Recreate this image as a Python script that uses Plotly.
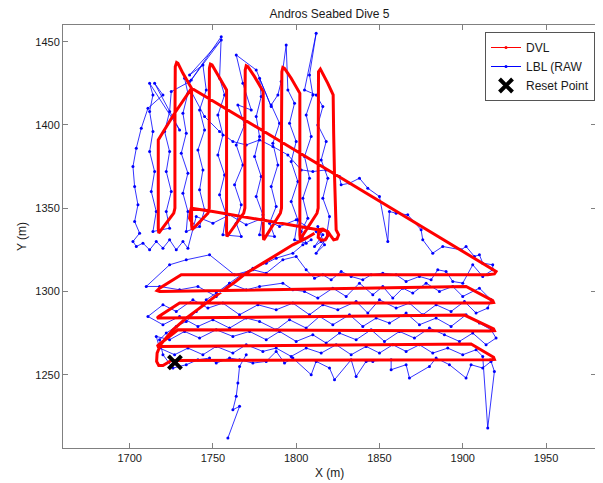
import plotly.graph_objects as go

# ---------------- DVL track (m) ----------------
dvl_pts = [
    (1738,1340),(1736,1344),(1736.5,1348),(1737,1350),
    (1750,1348),(1765,1345.5),(1780,1343),(1795,1340.5),(1808,1338),(1813,1337),
    (1816,1337.5),(1818.5,1336),(1819,1333.5),(1817.5,1331),(1815,1330.8),(1813.2,1332.5),(1813.5,1335.5),(1816,1337),(1819,1336),
    (1821,1333),(1822.5,1331),(1824.5,1331.5),(1825.5,1334),(1824,1337),
    (1823.5,1350),(1823,1370),(1822.5,1395),(1822.2,1418),
    (1819,1425),(1816,1431),(1814.5,1433.5),(1813.4,1432),
    (1813.2,1410),(1813.2,1380),(1813.2,1350),(1812.5,1347),
    (1803.5,1333),(1802.5,1331),(1802.2,1334),
    (1802.2,1370),(1802.2,1419),
    (1797,1428),(1793,1434),(1792,1434.5),(1791.4,1432),
    (1791.2,1400),(1791.2,1350),(1790.5,1347),
    (1781.5,1333),(1780.5,1331),(1780.2,1334),
    (1780.2,1380),(1780.2,1420),
    (1775,1429),(1771,1435),(1770,1435.5),(1769.4,1433),
    (1769.2,1400),(1769.2,1350),(1768.5,1347),
    (1759.5,1335),(1758.5,1333),(1758.2,1336),
    (1758.2,1380),(1758.2,1421),
    (1753,1430),(1749.5,1436),(1748.5,1436.5),(1747.9,1434),
    (1747.8,1400),(1747.8,1350),(1747,1347),
    (1738.5,1338),(1737.5,1337),(1737.2,1340),
    (1737.2,1380),(1737.2,1422),
    (1732,1431),(1729,1437),(1728.2,1437.5),(1727.4,1435),
    (1727.2,1400),(1727.2,1350),(1726.5,1347),
    (1718.5,1336),(1717.5,1335),(1717.2,1338),
    (1717.2,1365),(1717.2,1391),
    (1727,1407),(1737.2,1422),
    (1780,1396.5),(1830,1366.5),(1880,1336.5),(1910,1318),(1917,1314),(1920,1312),(1919,1310.5),(1915,1310),
    (1850,1310),(1780,1310),(1731,1310),
    (1718,1302),(1716.5,1300.5),(1718,1300),
    (1800,1301.5),(1902,1303),
    (1918,1294.5),(1918.5,1293.3),(1916,1293),
    (1830,1293),(1730,1293),
    (1717.5,1285),(1716.5,1284),(1718,1284),
    (1800,1285),(1901,1285.8),
    (1918.5,1277.5),(1919,1276.4),(1916,1276.2),
    (1830,1276.5),(1729,1277),
    (1717.5,1268),(1716.5,1267),(1718,1267),
    (1800,1267.5),(1905,1268.4),
    (1918.5,1260.5),(1919,1259.2),(1916,1259),
    (1820,1258.6),(1725,1258.5),
    (1720,1255.5),(1717.5,1255.5),(1716.2,1258),(1716.5,1263),(1718.5,1268),
    (1726,1277),(1734,1284),(1745,1292.5),(1754,1299),(1763,1305.5),(1770,1311),
    (1780,1317),(1790,1323),(1798,1328),(1806,1332),(1811,1335),
]
dvl_x = [p[0] for p in dvl_pts]
dvl_y = [p[1] for p in dvl_pts]

# ---------------- LBL (raw) fixes (m) ----------------
lbl_upper = [
    (1812,1336),(1815,1330),(1811,1327),(1816,1334),(1813,1339),(1817,1328),(1812,1323),(1818,1332),
    (1820,1345),(1816,1356),(1819,1368),(1815,1379),(1818,1390),(1813,1400),(1816,1411),(1812,1418),
    (1805,1421),(1812,1455),(1808,1430),(1810,1418),(1806,1406),(1809,1393),(1805,1381),(1808,1368),
    (1804,1356),(1807,1344),(1803,1336),(1806,1329),
    (1799,1331),(1801,1343),(1797,1354),(1801,1366),(1797,1378),(1800,1390),(1796,1401),(1799,1413),
    (1795,1421),(1794,1448),(1791,1426),
    (1789,1418),(1785,1412),(1790,1401),(1786,1389),(1789,1376),(1785,1363),(1788,1351),(1784,1341),(1787,1333),
    (1778,1334),(1780,1346),(1776,1357),(1779,1369),(1775,1381),(1778,1393),(1776,1405),(1779,1417),
    (1778,1428),(1785,1411),(1776,1433),
    (1764,1442),(1768,1425),(1773,1409),(1765,1412),(1769,1400),(1764,1388),(1768,1376),(1763,1364),
    (1767,1352),(1764,1341),(1767,1333),
    (1756,1334),(1758,1346),(1754,1358),(1757,1370),(1753,1382),(1756,1394),(1753,1406),(1757,1418),
    (1754,1428),(1755,1453),(1737,1427),(1755,1451),(1736,1430),(1744,1436),
    (1746,1421),(1742,1409),(1745,1397),(1741,1385),(1744,1373),(1742,1361),(1745,1349),(1742,1339),
    (1734,1336),(1735,1348),(1732,1359),(1735,1371),(1731,1383),(1734,1395),(1732,1407),(1735,1419),
    (1733,1428),(1736,1426),
    (1725,1420),(1724,1408),(1721,1396),(1724,1384),(1722,1372),(1725,1360),(1722,1348),(1724,1338),
    (1714,1336),(1716,1348),(1713,1360),(1715,1372),(1712,1384),(1714,1396),(1712,1408),(1714,1418),
    (1712,1425),(1730,1397),(1715,1425),(1720,1418),
    (1711,1410),(1707,1398),(1704,1386),(1702,1375),(1703,1363),(1705,1352),(1703,1342),(1706,1335),
    (1702,1330),(1704,1327),
    (1708,1329),(1712,1325),(1716,1330),(1720,1326),(1724,1331),(1728,1325),(1732,1330),(1735,1326),
    (1740,1345),(1750,1341),(1760,1346),(1770,1340),(1780,1344),(1790,1339),(1800,1343),(1808,1338),
]
lbl_lower = [
    (1737,1420),(1745,1405),(1754,1396),(1762,1390),(1770,1388),(1778,1391),(1786,1387),(1795,1382),
    (1803,1373),(1810,1372),(1818,1373),(1826,1369),(1827,1364),(1832,1365),(1838,1368),(1843,1362),
    (1850,1357),(1855,1330),(1856,1348),(1860,1347),(1867,1346),(1875,1337),(1876,1331),(1882,1323),
    (1888,1327),(1899,1325),(1902,1327),(1907,1321),(1910,1322),(1912,1317),(1918,1316),(1918,1313),
    (1912,1309),(1906,1316),(1900,1305),(1894,1306),(1890,1312),(1885,1313),(1881,1307),(1874,1309),
    (1866,1306),(1860,1310),(1852,1311),(1845,1310),(1840,1307),(1833,1309),(1827,1312),(1821,1307),
    (1816,1310),(1811,1308),(1806,1313),(1800,1321),(1792,1319),(1782,1311),(1774,1313),(1763,1310),
    (1748,1322),(1734,1319),(1724,1316),(1710,1303),
    (1718,1303),(1730,1301),(1741,1303),(1752,1297),(1760,1305),(1770,1301),(1778,1303),(1792,1305),
    (1798,1301),(1805,1300),(1813,1296),(1822,1302),(1830,1297),(1838,1305),(1846,1298),(1852,1303),
    (1858,1296),(1864,1302),(1870,1299),(1878,1305),(1886,1300),(1894,1303),(1900,1297),(1910,1302),(1917,1295),
    (1915,1290),(1908,1287),(1901,1294),(1893,1288),(1884,1292),(1876,1286),(1868,1293),(1860,1290),
    (1850,1295),(1843,1287),(1836,1294),(1825,1289),(1816,1292),(1808,1286),(1798,1293),(1788,1289),
    (1777,1292),(1766,1286),(1756,1293),(1747,1290),(1738,1295),(1728,1288),(1720,1292),(1711,1285),
    (1720,1280),(1730,1285),(1741,1279),(1750,1283),(1760,1278),(1770,1284),(1778,1282),(1788,1277),
    (1796,1283),(1806,1278),(1814,1285),(1822,1280),(1832,1286),(1840,1279),(1848,1284),(1856,1281),
    (1866,1287),(1874,1280),(1884,1284),(1893,1279),(1902,1286),(1910,1281),(1917,1277),
    (1920,1272),(1914,1268),(1906,1275),(1898,1270),(1889,1274),(1880,1278),(1871,1272),(1862,1276),
    (1853,1270),(1845,1277),(1836,1271),(1826,1275),(1818,1269),(1810,1274),(1800,1270),(1790,1276),
    (1782,1271),(1772,1276),(1762,1273),(1752,1277),(1742,1272),(1733,1276),(1724,1271),(1716,1273),
    (1718,1266),(1727,1262),(1735,1266),(1744,1262),(1752,1267),(1762,1263),(1770,1268),(1780,1264),
    (1788,1266),(1797,1261),(1806,1266),(1815,1263),(1824,1268),(1833,1262),(1842,1267),(1850,1263),
    (1858,1268),(1866,1264),(1874,1268),(1882,1263),(1891,1266),(1900,1262),(1908,1265),(1912,1261),
    (1915,1218),(1919,1252),(1917,1258),
    (1912,1254),(1905,1256),(1902,1248),(1892,1256),(1884,1260),(1880,1255),(1868,1248),(1866,1256),
    (1857,1253),(1857,1259),(1846,1258),(1842,1258),(1836,1249),(1833,1259),(1823,1247),(1820,1254),
    (1812,1258),(1809,1250),(1798,1260),(1793,1257),(1788,1264),(1782,1258),(1774,1257),(1766,1259),
    (1760,1260),(1752,1257),(1748,1260),(1741,1259),(1734,1256),(1726,1254),(1720,1262),(1718,1271),
    (1722,1275),(1728,1279),
    (1734,1282),(1740,1288),(1746,1295),(1752,1299),(1760,1305),(1767,1310),(1774,1314),(1782,1317),
    (1788,1320),(1798,1323),(1804,1328),(1809,1331),
]
lbl_tail = [
    (1770,1262),(1766,1255),(1765,1245),(1764,1237),(1762,1229),(1766,1231),(1759,1212),
]

def seg_join(*segs):
    xs, ys = [], []
    for i, s in enumerate(segs):
        if i:
            xs.append(None); ys.append(None)
        xs += [p[0] for p in s]
        ys += [p[1] for p in s]
    return xs, ys

lbl_x, lbl_y = seg_join(lbl_upper, lbl_lower, lbl_tail)

reset_x = [1727.2]
reset_y = [1257.4]

x_ticks = [1700, 1750, 1800, 1850, 1900, 1950]
y_ticks = [1250, 1300, 1350, 1400, 1450]
x_range = [1660, 1980]
y_range = [1206, 1460]

FONT = "Liberation Sans, Arial, Helvetica, sans-serif"
AX = "#808080"
TXT = "#1a1a1a"

# the page body keeps its default 8px margin, so the figure is sized to fit
W, H = 595, 475
ML, MR, MT, MB = 55, 7, 17, 35
PW, PH = W - ML - MR, H - MT - MB

fig = go.Figure()

fig.add_trace(go.Scatter(
    x=lbl_x, y=lbl_y, mode="lines+markers", name="LBL (RAW",
    line=dict(color="#0000ff", width=0.8),
    marker=dict(color="#0000ff", size=3),
    connectgaps=False, showlegend=False,
))
fig.add_trace(go.Scatter(
    x=dvl_x, y=dvl_y, mode="lines", name="DVL",
    line=dict(color="#ff0000", width=3),
    showlegend=False,
))
# legend entries
fig.add_trace(go.Scatter(
    x=[None], y=[None], mode="lines+markers", name="DVL",
    line=dict(color="#ff0000", width=1), marker=dict(color="#ff0000", size=3),
))
fig.add_trace(go.Scatter(
    x=[None], y=[None], mode="lines+markers", name="LBL (RAW",
    line=dict(color="#0000ff", width=1), marker=dict(color="#0000ff", size=3),
))
fig.add_trace(go.Scatter(
    x=reset_x, y=reset_y, mode="markers", name="Reset Point",
    marker=dict(symbol="x-thin", size=13, color="black",
                line=dict(color="black", width=4)),
))

fig.update_layout(
    width=W, height=H,
    margin=dict(l=ML, r=MR, t=MT, b=MB),
    paper_bgcolor="white", plot_bgcolor="white",
    font=dict(family=FONT, size=11, color=TXT),
    title=dict(text="Andros Seabed Dive 5", x=0.5, xref="paper",
               y=1 - 6 / H, yref="container", yanchor="middle", xanchor="center",
               font=dict(size=12, family=FONT, color=TXT)),
    showlegend=True,
    legend=dict(x=1 - 1 / PW, y=1 - 7 / PH, xanchor="right", yanchor="top",
                bgcolor="white", bordercolor="#555555", borderwidth=1,
                font=dict(size=12, family=FONT, color=TXT),
                tracegroupgap=0, itemwidth=30),
    xaxis=dict(range=x_range, tickvals=x_ticks, ticks="inside", ticklen=5,
               tickcolor=AX, showline=True, linecolor=AX, linewidth=1, mirror="ticks",
               showgrid=False, zeroline=False, tickfont=dict(size=11)),
    yaxis=dict(range=y_range, tickvals=y_ticks, ticks="inside", ticklen=5,
               tickcolor=AX, showline=True, linecolor=AX, linewidth=1, mirror="ticks",
               showgrid=False, zeroline=False, tickfont=dict(size=11)),
    annotations=[
        dict(text="X (m)", x=0.5, y=-25 / PH, xref="paper", yref="paper",
             showarrow=False, xanchor="center", yanchor="middle",
             font=dict(size=12, family=FONT, color=TXT)),
        dict(text="Y (m)", x=-41.5 / PW, y=0.5, xref="paper", yref="paper",
             showarrow=False, xanchor="center", yanchor="middle", textangle=-90,
             font=dict(size=12, family=FONT, color=TXT)),
    ],
)

fig.write_html("out.html")
